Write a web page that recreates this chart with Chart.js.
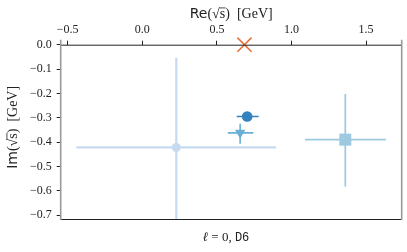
<!DOCTYPE html>
<html><head><meta charset="utf-8">
<script src="https://cdn.jsdelivr.net/npm/chart.js@4"></script>
<style>html,body{margin:0;padding:0;background:#fff;overflow:hidden}canvas{display:block}</style>
</head><body><canvas id="c" width="407" height="252" style="width:407px;height:252px"></canvas>
<script>
// ---- data ----
const pointNames = ['wide', 'narrow', 'triangle', 'square', 'pole'];
const reValues   = [0.228, 0.703, 0.656, 1.361, 0.685];
const imValues   = [-0.422, -0.295, -0.362, -0.390, 0.0];
const reErrMinus = [0.670, 0.070, 0.083, 0.270, 0];
const reErrPlus  = [0.669, 0.077, 0.089, 0.272, 0];
const imErrMinus = [0.370, 0.012, 0.045, 0.192, 0];
const imErrPlus  = [0.368, 0.012, 0.037, 0.188, 0];
const xTickValues = [-0.5, 0.0, 0.5, 1.0, 1.5];
const xTickLabels = ['\u22120.5', '0.0', '0.5', '1.0', '1.5'];
const yTickValues = [0.0, -0.1, -0.2, -0.3, -0.4, -0.5, -0.6, -0.7];
const yTickLabels = ['0.0', '\u22120.1', '\u22120.2', '\u22120.3', '\u22120.4', '\u22120.5', '\u22120.6', '\u22120.7'];

// ---- styles ----
const colors = ['#c6dbef', '#3182bd', '#6baed6', '#9ecae1', '#e8703a'];
const errWidth = [2.2, 1.6, 1.6, 1.8, 0];
const SERIF = '"Liberation Serif", "DejaVu Serif", serif';
const SANS = '"DejaVu Sans", sans-serif';
const MONO = '"Liberation Mono", "DejaVu Sans Mono", monospace';

const pointStyles = ['circle', 'circle', 'triangle', 'rect', 'crossRot'];
const pointRadii = [4.5, 5.3, 6, 8.5, 10];
const pointRotations = [0, 0, 180, 0, 0];

const datasets = pointNames.map((n, i) => ({
  label: n,
  data: [{ x: reValues[i], y: imValues[i] }],
  pointStyle: pointStyles[i],
  pointRadius: pointRadii[i],
  pointHoverRadius: pointRadii[i],
  pointRotation: pointRotations[i],
  backgroundColor: colors[i],
  borderColor: colors[i],
  pointBorderWidth: i === 4 ? 1.6 : 0,
  clip: false
}));

const errorBars = {
  id: 'errorBars',
  beforeDatasetsDraw(chart) {
    const { ctx, chartArea: a, scales: { x, y } } = chart;
    ctx.save();
    ctx.beginPath(); ctx.rect(a.left, a.top, a.right - a.left, a.bottom - a.top); ctx.clip();
    for (let i = 0; i < reValues.length; i++) {
      if (!errWidth[i]) continue;
      ctx.strokeStyle = colors[i]; ctx.lineWidth = errWidth[i];
      const px = x.getPixelForValue(reValues[i]), py = y.getPixelForValue(imValues[i]);
      ctx.beginPath();
      ctx.moveTo(x.getPixelForValue(reValues[i] - reErrMinus[i]), py);
      ctx.lineTo(x.getPixelForValue(reValues[i] + reErrPlus[i]), py);
      ctx.moveTo(px, y.getPixelForValue(imValues[i] + imErrPlus[i]));
      ctx.lineTo(px, y.getPixelForValue(imValues[i] - imErrMinus[i]));
      ctx.stroke();
    }
    ctx.restore();
  }
};

function drawSqrtS(ctx, x, y, size) {
  ctx.font = size + 'px ' + SERIF;
  const w1 = ctx.measureText('(\u221A').width;
  const ws = ctx.measureText('s').width;
  ctx.fillText('(\u221As)', x, y);
  ctx.beginPath();
  ctx.lineWidth = 0.8;
  ctx.moveTo(x + w1 - 0.5, y - size * 0.72);
  ctx.lineTo(x + w1 + ws + 0.3, y - size * 0.72);
  ctx.stroke();
}

function axisLabel(ctx, prefix, cx, cy, size) {
  ctx.font = size + 'px ' + SANS;
  const wp = ctx.measureText(prefix).width;
  ctx.font = size + 'px ' + SERIF;
  const wq = ctx.measureText('(\u221As)').width;
  const wu = ctx.measureText('  [GeV]').width;
  const total = wp + wq + wu;
  const x0 = cx - total / 2;
  ctx.textBaseline = 'alphabetic'; ctx.textAlign = 'left';
  ctx.font = size + 'px ' + SANS;
  ctx.fillText(prefix, x0, cy);
  drawSqrtS(ctx, x0 + wp, cy, size);
  ctx.font = size + 'px ' + SERIF;
  ctx.fillText('  [GeV]', x0 + wp + wq, cy);
}

const frame = {
  id: 'frame',
  afterDraw(chart) {
    const { ctx, chartArea: a } = chart;
    ctx.save();
    ctx.lineWidth = 1;
    ctx.strokeStyle = '#222';
    ctx.beginPath();
    ctx.moveTo(a.left, a.top + 0.5); ctx.lineTo(a.right, a.top + 0.5);
    ctx.moveTo(a.left, a.bottom - 0.5); ctx.lineTo(a.right, a.bottom - 0.5);
    ctx.stroke();
    ctx.strokeStyle = '#999'; ctx.lineWidth = 1.6;
    ctx.beginPath();
    ctx.moveTo(a.left, a.top - 5); ctx.lineTo(a.left, a.bottom);
    ctx.moveTo(a.right, a.top - 5); ctx.lineTo(a.right, a.bottom);
    ctx.stroke();

    ctx.fillStyle = '#222'; ctx.strokeStyle = '#222';
    axisLabel(ctx, 'Re', (a.left + a.right) / 2, 18, 14);
    ctx.save();
    ctx.translate(17, (a.top + a.bottom) / 2 - 5);
    ctx.rotate(-Math.PI / 2);
    axisLabel(ctx, 'Im', 0, 0, 14);
    ctx.restore();
    ctx.textBaseline = 'alphabetic'; ctx.textAlign = 'left';
    ctx.font = 'italic 13px ' + SERIF;
    const wl = ctx.measureText('\u2113').width;
    ctx.font = '13px ' + SERIF;
    const wr = ctx.measureText(' = 0, ').width;
    ctx.font = '12px ' + MONO;
    const wm = ctx.measureText('D6').width;
    const x0 = 226 - (wl + wr + wm) / 2;
    const by = 241;
    ctx.font = 'italic 13px ' + SERIF; ctx.fillText('\u2113', x0, by);
    ctx.font = '13px ' + SERIF; ctx.fillText(' = 0, ', x0 + wl, by);
    ctx.font = '12px ' + MONO; ctx.fillText('D6', x0 + wl + wr, by);
    ctx.restore();
  }
};

new Chart(document.getElementById('c'), {
  type: 'scatter',
  data: { datasets },
  options: {
    responsive: false,
    animation: false,
    events: [],
    layout: { autoPadding: false, padding: { left: 0, right: 5.3, top: 0, bottom: 32 } },
    plugins: { legend: { display: false }, tooltip: { enabled: false } },
    scales: {
      x: {
        type: 'linear', position: 'top', min: -0.547, max: 1.739,
        afterFit(s) { s.height = 44.7; s.paddingLeft = 0; s.paddingRight = 0; },
        afterBuildTicks(s) { s.ticks = xTickValues.map(v => ({ value: v })); },
        ticks: {
          autoSkip: false, maxRotation: 0, padding: 4, color: '#222',
          font: { family: SERIF, size: 12 },
          callback: (v) => xTickLabels[xTickValues.indexOf(v)]
        },
        grid: { drawOnChartArea: false, drawTicks: true, tickLength: 4, color: '#222', tickWidth: 1 },
        border: { display: false }
      },
      y: {
        type: 'linear', position: 'left', min: -0.72, max: 0.0,
        afterFit(s) { s.width = 60.7; s.paddingTop = 0; s.paddingBottom = 0; },
        afterBuildTicks(s) { s.ticks = yTickValues.map(v => ({ value: v })); },
        ticks: {
          autoSkip: false, padding: 5, color: '#222',
          font: { family: SERIF, size: 12 },
          callback: (v) => yTickLabels[yTickValues.indexOf(v)]
        },
        grid: { drawOnChartArea: false, drawTicks: true, tickLength: 4, color: '#222', tickWidth: 1 },
        border: { display: false }
      }
    }
  },
  plugins: [errorBars, frame]
});
</script>
</body></html>
